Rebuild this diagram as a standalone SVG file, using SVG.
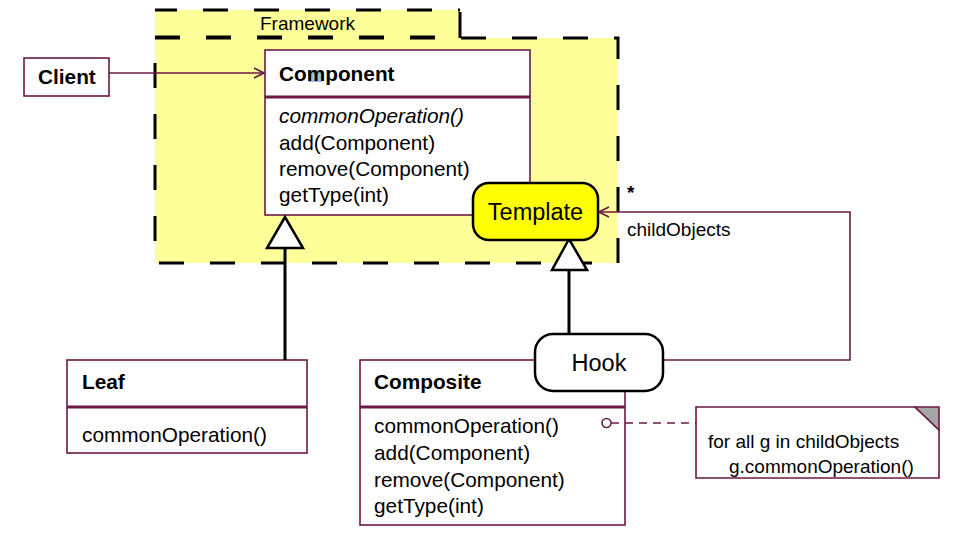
<svg xmlns="http://www.w3.org/2000/svg" width="972" height="541" viewBox="0 0 972 541">
<style>
  .cls { fill: #ffffff; stroke: #6B1A45; stroke-width: 1.6; }
  .div { stroke: #6B1A45; stroke-width: 3; }
  .t { font-family: "Liberation Sans", Arial, sans-serif; fill: #000; }
  .title { font-size: 20.8px; font-weight: bold; }
  .op { font-size: 20.8px; }
  .big { font-size: 23.5px; }
  .sm { font-size: 19px; }
  .pkg { fill: #FFFF99; stroke: #000; stroke-width: 3; stroke-dasharray: 25 26; }
  .gen { fill: #ffffff; stroke: #000; stroke-width: 2.5; stroke-linejoin: miter; }
  .genline { stroke: #000; stroke-width: 3; fill: none; }
  .assoc { stroke: #6B1A45; stroke-width: 1.6; fill: none; }
</style>
<defs>
  <marker id="open" viewBox="0 0 12 12" refX="11" refY="6" markerWidth="12" markerHeight="12" markerUnits="userSpaceOnUse" orient="auto">
    <path d="M1,1 L11,6 L1,11" fill="none" stroke="#6B1A45" stroke-width="1.6"/>
  </marker>
</defs>
<rect width="972" height="541" fill="#ffffff"/>

<g id="framework">
  <rect x="155" y="10" width="305" height="28" fill="#FFFF99" stroke="none"/>
  <path d="M155,37 H460" class="pkg" fill="none"/>
  <rect class="pkg" x="155" y="38" width="463" height="225"/>
  <path d="M155,10 H460" fill="none" stroke="#000" stroke-width="3" stroke-dasharray="25 26" stroke-dashoffset="3"/>
  <line x1="460" y1="12" x2="460" y2="38" stroke="#000" stroke-width="3"/>
  <text class="t sm" x="260" y="30">Framework</text>
</g>

<g id="client">
  <rect class="cls" x="24" y="58" width="85" height="38"/>
  <text class="t title" x="38" y="84">Client</text>
</g>

<g id="component">
  <rect class="cls" x="265" y="50" width="265" height="165"/>
  <line class="div" x1="265" y1="97" x2="530" y2="97"/>
  <rect x="308" y="70" width="14" height="12" fill="#9cc0e4"/>
  <text class="t title" x="279" y="81">Component</text>
  <text class="t op" x="279" y="123" font-style="italic">commonOperation()</text>
  <text class="t op" x="279" y="149.5">add(Component)</text>
  <text class="t op" x="279" y="176">remove(Component)</text>
  <text class="t op" x="279" y="202">getType(int)</text>
</g>

<g id="leaf">
  <rect class="cls" x="67" y="360" width="240" height="93"/>
  <line class="div" x1="67" y1="407" x2="307" y2="407"/>
  <text class="t title" x="82" y="389">Leaf</text>
  <text class="t op" x="82" y="442">commonOperation()</text>
</g>

<g id="composite">
  <rect class="cls" x="360" y="360" width="265" height="165"/>
  <line class="div" x1="360" y1="407" x2="625" y2="407"/>
  <text class="t title" x="374" y="389">Composite</text>
  <text class="t op" x="374" y="433">commonOperation()</text>
  <text class="t op" x="374" y="460">add(Component)</text>
  <text class="t op" x="374" y="486.5">remove(Component)</text>
  <text class="t op" x="374" y="512.5">getType(int)</text>
</g>

<g id="note">
  <path d="M696,407 H915 L939,430 V478 H696 Z" fill="#ffffff" stroke="#6B1A45" stroke-width="1.6"/>
  <path d="M915,407 H939 V430 Z" fill="#A6A6A6" stroke="#6B1A45" stroke-width="1.6"/>
  <text class="t sm" x="708" y="448">for all g in childObjects</text>
  <text class="t sm" x="729" y="473">g.commonOperation()</text>
</g>

<g id="connectors">
  <line class="assoc" x1="109" y1="73" x2="264" y2="73" marker-end="url(#open)"/>
  <line class="genline" x1="285" y1="247" x2="285" y2="360"/>
  <polygon class="gen" points="285,217 267,248 303,248"/>
  <line class="genline" x1="569" y1="269" x2="569" y2="334"/>
  <polygon class="gen" points="569,239 552,270 587,270"/>
  <polyline class="assoc" points="663,360 850,360 850,212 599,212" marker-end="url(#open)"/>
  <text class="t" x="627" y="199" font-size="19px" font-weight="bold">*</text>
  <text class="t sm" x="627" y="236">childObjects</text>
  <line x1="611" y1="423" x2="696" y2="423" stroke="#6B1A45" stroke-width="1.6" stroke-dasharray="8 6"/>
  <circle cx="606.5" cy="423" r="4.5" fill="#ffffff" stroke="#6B1A45" stroke-width="1.6"/>
</g>

<g id="template">
  <rect x="473" y="183" width="125" height="57" rx="16" fill="#FFFF00" stroke="#000" stroke-width="2.5"/>
  <text class="t big" x="535.5" y="219.5" text-anchor="middle">Template</text>
</g>

<g id="hook">
  <rect x="535" y="334" width="128" height="57" rx="18" fill="#ffffff" stroke="#000" stroke-width="2.5"/>
  <text class="t big" x="599" y="370.5" text-anchor="middle">Hook</text>
</g>
</svg>
